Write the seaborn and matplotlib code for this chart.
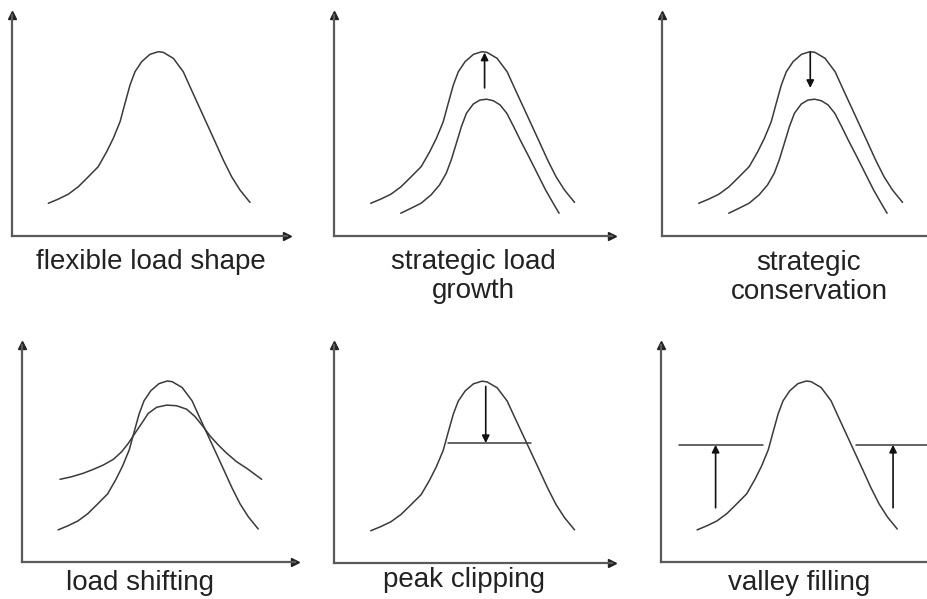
import matplotlib
matplotlib.use("Agg")
import matplotlib.pyplot as plt
import seaborn as sns

# load shape curves (x = hour of day, y = relative load)
hours_base = [3.17, 4.04, 4.91, 5.79, 6.66, 7.53, 8.26, 8.84, 9.43, 9.86, 10.30, 10.73, 11.32,
              12.04, 12.77, 13.20, 14.08, 14.95, 15.53, 16.26, 16.99, 17.72, 18.44, 19.17, 19.90, 20.77]
load_base = [14.8, 16.7, 18.9, 22.3, 26.8, 31.4, 38.1, 44.2, 51.7, 60.0, 68.3, 74.3, 78.9,
             82.2, 83.4, 83.1, 80.4, 74.3, 67.6, 59.3, 51.0, 42.7, 34.4, 26.8, 20.8, 15.2]

hours_low = [5.76, 6.63, 7.51, 8.38, 9.11, 9.69, 10.12, 10.56, 11.0, 11.43, 12.02, 12.59, 13.18,
             13.76, 14.34, 14.92, 15.51, 16.08, 16.82, 17.54, 18.27, 18.85, 19.43]
load_low = [10.3, 12.5, 14.8, 18.6, 23.1, 28.4, 34.4, 41.9, 49.5, 55.5, 59.7, 61.5, 61.9,
            61.2, 59.3, 55.5, 49.5, 43.4, 35.9, 28.4, 20.8, 15.5, 10.3]

hours_flat = [3.34, 4.37, 5.39, 6.27, 7.15, 8.03, 8.76, 9.35, 9.93, 10.52, 11.1, 11.84, 12.72,
              13.6, 14.48, 15.21, 15.94, 16.53, 17.26, 18.0, 18.87, 19.75, 21.07]
load_flat = [38.1, 39.3, 40.9, 42.7, 44.7, 47.3, 50.8, 54.7, 59.3, 63.9, 68.5, 71.3, 72.3,
             72.0, 70.4, 67.0, 62.3, 58.1, 53.9, 50.1, 46.2, 43.2, 38.1]

# arrows / levels
growth_arrow = (13.0, 67, 83)        # x, from, to
conserv_arrow = (12.8, 83, 67)
clip_level = 55
clip_span = [9.8, 17.0]
clip_arrow = (13.1, 81, 55)
fill_level = 54
fill_left = [1.6, 9.0]
fill_right = [17.1, 24.0]
fill_arrows = [(4.8, 25, 54), (20.4, 25, 54)]

labels = ["flexible load shape", "strategic load\ngrowth", "strategic\nconservation",
          "load shifting", "peak clipping", "valley filling"]

sns.set_style("white")
plt.rcParams['font.family'] = ['Liberation Sans', 'DejaVu Sans']

W, H = 928, 599
fig = plt.figure(figsize=(W / 100, H / 100), dpi=100)

# panel boxes in pixels: left, axis y, width, height
boxes = [(12, 236, 275, 221), (334, 236, 278, 221), (662, 236, 278, 221),
         (22, 562, 273, 217), (334, 563, 278, 218), (661, 562, 273, 217)]
# label centre x and first baseline y, in pixels
label_pos = [(151, 269), (473, 269), (809, 270), (140, 590), (464, 587), (799, 590)]
line_step = 29

curve_col = "#3a3a3a"
axis_col = "#5a5a5a"

axes = []
for (lx, ay, w, h) in boxes:
    ax = fig.add_axes([lx / W, (H - ay) / H, w / W, h / H])
    ax.set_xlim(0, 24)
    ax.set_ylim(0, 100)
    ax.set_xticks([])
    ax.set_yticks([])
    ax.patch.set_alpha(0)
    for s in ["top", "right"]:
        ax.spines[s].set_visible(False)
    for s in ["left", "bottom"]:
        ax.spines[s].set_color(axis_col)
        ax.spines[s].set_linewidth(1.6)
    ax.plot(1, 0, ">", color="#222222", ms=6, transform=ax.transAxes, clip_on=False)
    ax.plot(0, 1, "^", color="#222222", ms=6, transform=ax.transAxes, clip_on=False)
    axes.append(ax)


def curve(ax, x, y):
    sns.lineplot(x=x, y=y, ax=ax, color=curve_col, lw=1.1, sort=False)


def arrow(ax, x, y0, y1):
    ax.annotate("", xy=(x, y1), xytext=(x, y0),
                arrowprops=dict(arrowstyle="-|>", color="#111111", lw=1.2,
                                mutation_scale=11, shrinkA=0, shrinkB=0))


# flexible load shape
curve(axes[0], hours_base, load_base)

# strategic load growth
curve(axes[1], hours_base, load_base)
curve(axes[1], hours_low, load_low)
arrow(axes[1], *growth_arrow)

# strategic conservation
curve(axes[2], hours_base, load_base)
curve(axes[2], hours_low, load_low)
arrow(axes[2], *conserv_arrow)

# load shifting
curve(axes[3], hours_base, load_base)
curve(axes[3], hours_flat, load_flat)

# peak clipping
curve(axes[4], hours_base, load_base)
curve(axes[4], clip_span, [clip_level, clip_level])
arrow(axes[4], *clip_arrow)

# valley filling
curve(axes[5], hours_base, load_base)
curve(axes[5], fill_left, [fill_level, fill_level])
curve(axes[5], fill_right, [fill_level, fill_level])
for a in fill_arrows:
    arrow(axes[5], *a)

for (tx, ty), lab in zip(label_pos, labels):
    for i, line in enumerate(lab.split("\n")):
        fig.text(tx / W, 1 - (ty + i * line_step) / H, line, ha="center", va="baseline",
                 fontsize=20, color="#222222")

fig.savefig("out.png", dpi=100)
